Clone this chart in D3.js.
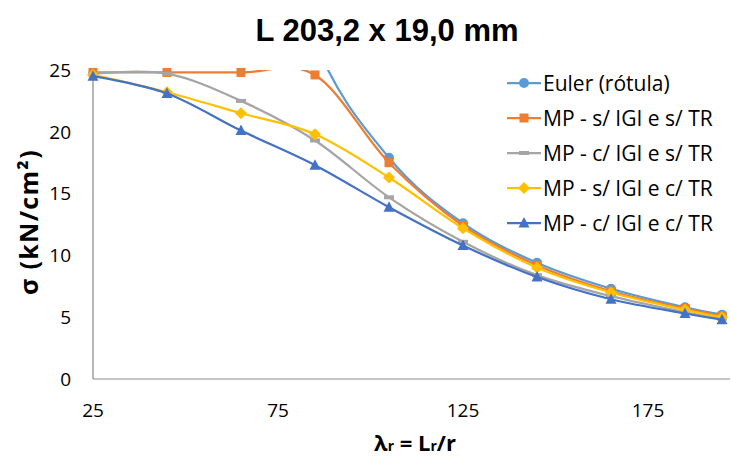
<!DOCTYPE html>
<html>
<head>
<meta charset="utf-8">
<script src="https://cdn.jsdelivr.net/npm/d3@7"></script>
<style>
  body { margin: 0; background: #fff; }
  svg { display: block; }
  text { font-family: "Open Sans", sans-serif; fill: #000; }
</style>
</head>
<body>
<div id="chart"></div>
<script>
// slenderness values (x axis)
const LAMBDA = [25, 45, 65, 85, 105, 125, 145, 165, 185, 195];

// stress values per series, kN/cm² (null = no point)
const EULER      = [null, null, 46.7, 27.3, 17.9, 12.6, 9.4, 7.3, 5.8, 5.2];
const MP_SS      = [24.8, 24.8, 24.8, 24.6, 17.5, 12.4, 9.2, 7.1, 5.7, 5.1];
const MP_CS      = [24.7, 24.7, 22.5, 19.3, 14.7, 11.1, 8.4, 6.7, 5.4, 4.9];
const MP_SC      = [24.6, 23.2, 21.5, 19.8, 16.3, 12.2, 9.0, 7.0, 5.6, 5.0];
const MP_CC      = [24.5, 23.1, 20.1, 17.3, 13.9, 10.8, 8.25, 6.45, 5.3, 4.8];

const SERIES_NAMES = ["Euler (rótula)", "MP - s/ IGI e s/ TR", "MP - c/ IGI e s/ TR", "MP - s/ IGI e c/ TR", "MP - c/ IGI e c/ TR"];
const X_TICKS = [25, 75, 125, 175];
const Y_TICKS = [0, 5, 10, 15, 20, 25];

const COLORS = ["#5b9bd5", "#ed7d31", "#a5a5a5", "#ffc000", "#4472c4"];
const MARKERS = ["circle", "square", "dash", "diamond", "triangle"];

const WIDTH = 731, HEIGHT = 459;

const svg = d3.select("#chart")
    .append("svg")
        .attr("width", WIDTH)
        .attr("height", HEIGHT);

const x = d3.scaleLinear().domain([25, 175]).range([93, 648]);
const y = d3.scaleLinear().domain([0, 25]).range([379, 70]);
const xMax = x.invert(730);

// title
svg.append("text")
    .attr("x", 387)
    .attr("y", 41)
    .attr("text-anchor", "middle")
    .style("font-family", "'Liberation Sans', Arial, sans-serif")
    .style("font-weight", "bold")
    .style("font-size", "31px")
    .text("L 203,2 x 19,0 mm");

// clip for the lines so they stay in the plot area
svg.append("defs")
    .append("clipPath")
        .attr("id", "plot-clip")
    .append("rect")
        .attr("x", x(25))
        .attr("y", y(25))
        .attr("width", x(xMax) - x(25))
        .attr("height", y(0) - y(25));

// axis lines
svg.append("line")
    .attr("x1", x(25)).attr("x2", x(xMax))
    .attr("y1", y(0)).attr("y2", y(0))
    .style("stroke", "#8c8c8c").style("stroke-width", 1);

svg.append("line")
    .attr("x1", x(25)).attr("x2", x(25))
    .attr("y1", y(0)).attr("y2", y(25))
    .style("stroke", "#6e6e6e").style("stroke-width", 1);

// tick labels
svg.selectAll(".ytick")
    .data(Y_TICKS)
    .enter()
    .append("text")
        .attr("class", "ytick")
        .attr("x", 71)
        .attr("y", d => y(d))
        .attr("dy", "0.36em")
        .attr("text-anchor", "end")
        .style("font-size", "19px")
        .text(d => d);

svg.selectAll(".xtick")
    .data(X_TICKS)
    .enter()
    .append("text")
        .attr("class", "xtick")
        .attr("x", d => x(d))
        .attr("y", 417)
        .attr("text-anchor", "middle")
        .style("font-size", "19px")
        .text(d => d);

// axis titles
svg.append("text")
    .attr("transform", "translate(38,222) rotate(-90)")
    .attr("text-anchor", "middle")
    .style("font-weight", "bold")
    .style("font-size", "25px")
    .style("letter-spacing", "1.3px")
    .text("σ (kN/cm²)");

let xTitle = svg.append("text")
    .attr("x", 415)
    .attr("y", 451)
    .attr("text-anchor", "middle")
    .style("font-weight", "bold")
    .style("font-size", "22px");
xTitle.append("tspan").text("λ");
xTitle.append("tspan").style("font-size", "14px").text("r");
xTitle.append("tspan").text(" = L");
xTitle.append("tspan").style("font-size", "14px").text("r");
xTitle.append("tspan").text("/r");

// series
const seriesValues = [EULER, MP_SS, MP_CS, MP_SC, MP_CC];

const line = d3.line()
    .defined(d => d.v !== null)
    .x(d => x(d.l))
    .y(d => y(d.v))
    .curve(d3.curveCardinal.tension(0));

function drawMarker(g, type, color, cx, cy) {
    switch (type) {
        case "circle":
            g.append("circle").attr("cx", cx).attr("cy", cy).attr("r", 5).style("fill", color);
            break;
        case "square":
            g.append("rect").attr("x", cx - 4.5).attr("y", cy - 4.5).attr("width", 9).attr("height", 9).style("fill", color);
            break;
        case "dash":
            g.append("rect").attr("x", cx - 5).attr("y", cy - 2).attr("width", 10).attr("height", 4).style("fill", color);
            break;
        case "diamond":
            g.append("path").attr("d", `M${cx},${cy - 6}L${cx + 6},${cy}L${cx},${cy + 6}L${cx - 6},${cy}Z`).style("fill", color);
            break;
        case "triangle":
            g.append("path").attr("d", `M${cx},${cy - 6}L${cx + 5.5},${cy + 4.5}L${cx - 5.5},${cy + 4.5}Z`).style("fill", color);
            break;
    }
}

seriesValues.forEach((vals, i) => {
    const data = LAMBDA.map((l, j) => ({l: l, v: vals[j]}));
    const g = svg.append("g").attr("class", "series");

    g.append("path")
        .datum(data)
        .attr("d", line)
        .attr("clip-path", "url(#plot-clip)")
        .style("fill", "none")
        .style("stroke", COLORS[i])
        .style("stroke-width", 2.25)
        .style("stroke-linejoin", "round");

    data.filter(d => d.v !== null && d.v <= 25)
        .forEach(d => drawMarker(g, MARKERS[i], COLORS[i], x(d.l), y(d.v)));
});

// legend
const LEGEND_Y = [83, 118, 153, 188, 223];
SERIES_NAMES.forEach((name, i) => {
    const g = svg.append("g").attr("class", "legend-item");
    g.append("line")
        .attr("x1", 507).attr("x2", 541)
        .attr("y1", LEGEND_Y[i]).attr("y2", LEGEND_Y[i])
        .style("stroke", COLORS[i])
        .style("stroke-width", 2.25);
    drawMarker(g, MARKERS[i], COLORS[i], 524, LEGEND_Y[i]);
    g.append("text")
        .attr("x", 543)
        .attr("y", LEGEND_Y[i])
        .attr("dy", "0.36em")
        .style("font-size", "21px")
        .text(name);
});
</script>
</body>
</html>
